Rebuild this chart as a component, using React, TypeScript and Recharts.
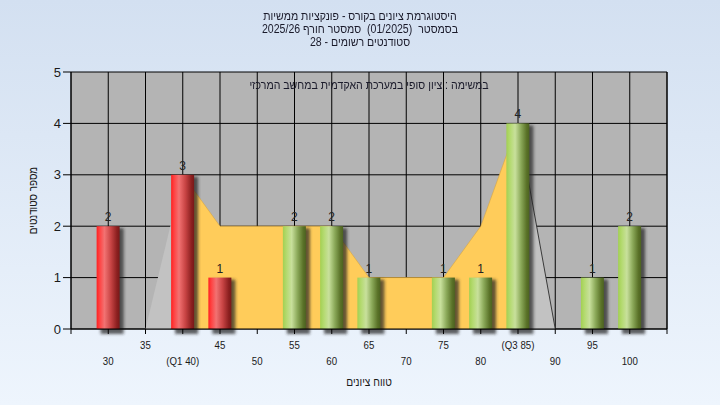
import { ComposedChart, Bar, Area, XAxis, YAxis, CartesianGrid, LabelList, Label } from 'recharts'

const scores = [30, 35, 40, 45, 50, 55, 60, 65, 70, 75, 80, 85, 90, 95, 100]
const studentCounts = [2, 0, 3, 1, 0, 2, 2, 1, 0, 1, 1, 4, 0, 1, 2]
const tickLabels = ['30', '35', '(Q1 40)', '45', '50', '55', '60', '65', '70', '75', '80', '(Q3 85)', '90', '95', '100']
// frequency polygon between Q1 and Q3, plus the two tails outside it
const midPolygon = [null, null, 3, 2, 2, 2, 2, 1, 1, 1, 2, 4, null, null, null]
const lowTail = [null, 0, 3, null, null, null, null, null, null, null, null, null, null, null, null]
const highTail = [null, null, null, null, null, null, null, null, null, null, null, 4, 0, null, null]
const axisTicks = [25, 30, 35, 40, 45, 50, 55, 60, 65, 70, 75, 80, 85, 90, 95, 100, 105]
const yTicks = [0, 1, 2, 3, 4, 5]
const passMark = 55

const titleLines = [
  'היסטוגרמת ציונים בקורס - פונקציות ממשיות',
  'בסמסטר  (01/2025)  סמסטר חורף 2025/26',
  'סטודנטים רשומים - 28',
]
const note = 'במשימה : ציון סופי במערכת האקדמית במחשב המרכזי'
const xTitle = 'טווח ציונים'
const yTitle = 'מספר סטודנטים'

const data = scores.map((s, i) => ({
  score: s,
  count: studentCounts[i],
  mid: midPolygon[i],
  low: lowTail[i],
  high: highTail[i],
}))

const FONT = '"Liberation Sans", "DejaVu Sans", Arial, sans-serif'
const NARROW = 0.88

function CylinderBar(props: any) {
  const { x, y, width, height, payload } = props
  if (!height || height <= 0) return null
  const grad = payload.score < passMark ? 'url(#redCyl)' : 'url(#greenCyl)'
  return (
    <g>
      <rect x={x + 4} y={y + 2} width={width} height={height + 3} fill="#222" opacity={0.7} filter="url(#barShadow)" />
      <rect x={x} y={y} width={width} height={height} fill={grad} />
    </g>
  )
}

function XTick(props: any) {
  const { x, y, payload } = props
  const i = scores.indexOf(payload.value)
  if (i < 0) return null
  const lower = i % 2 === 0
  return (
    <text
      transform={`translate(${x},${y + (lower ? 29 : 13)}) scale(${NARROW},1)`}
      textAnchor="middle"
      fontSize={11}
      fill="#1a1a1a"
      fontFamily={FONT}
    >
      {tickLabels[i]}
    </text>
  )
}

function XTitle(props: any) {
  const { viewBox } = props
  const cx = viewBox.x + viewBox.width / 2
  return (
    <text transform={`translate(${cx},386) scale(0.85,1)`} textAnchor="middle" fontSize={12} fill="#1a1a1a" fontFamily={FONT}>
      {xTitle}
    </text>
  )
}

function YTitle(props: any) {
  const { viewBox } = props
  const cy = viewBox.y + viewBox.height / 2
  return (
    <text transform={`translate(37,${cy}) rotate(-90) scale(0.82,1)`} textAnchor="middle" fontSize={12} fill="#1a1a1a" fontFamily={FONT}>
      {yTitle}
    </text>
  )
}

const lineStyle = (top: number) => ({
  position: 'absolute' as const,
  top,
  left: 0,
  width: 720,
  textAlign: 'center' as const,
  fontSize: 12,
  lineHeight: '13px',
  color: '#1a1a2a',
  whiteSpace: 'pre' as const,
  transform: `scaleX(${NARROW})`,
})

export default function App() {
  return (
    <div
      style={{
        position: 'absolute',
        left: 0,
        top: 0,
        width: 720,
        height: 405,
        background: 'linear-gradient(to bottom, #d3e0f1, #eef5fd)',
        fontFamily: FONT,
      }}
    >
      {titleLines.map((t, i) => (
        <div key={t} dir="rtl" style={lineStyle(10 + i * 13)}>
          {t}
        </div>
      ))}
      <ComposedChart
        width={720}
        height={405}
        data={data}
        margin={{ top: 72, right: 0, bottom: 0, left: 0 }}
        style={{ position: 'absolute', left: 0, top: 0 }}
      >
        <defs>
          <linearGradient id="redCyl" x1="0" y1="0" x2="1" y2="0">
            <stop offset="0%" stopColor="#ff2020" />
            <stop offset="12%" stopColor="#ff4040" />
            <stop offset="34%" stopColor="#f27272" />
            <stop offset="62%" stopColor="#c84444" />
            <stop offset="88%" stopColor="#8c2020" />
            <stop offset="100%" stopColor="#781818" />
          </linearGradient>
          <linearGradient id="greenCyl" x1="0" y1="0" x2="1" y2="0">
            <stop offset="0%" stopColor="#a2d052" />
            <stop offset="16%" stopColor="#b4da70" />
            <stop offset="38%" stopColor="#c8e09c" />
            <stop offset="64%" stopColor="#8aa858" />
            <stop offset="88%" stopColor="#5a7228" />
            <stop offset="100%" stopColor="#4c6220" />
          </linearGradient>
          <filter id="barShadow" x="-50%" y="-20%" width="200%" height="140%">
            <feGaussianBlur stdDeviation="1.5" />
          </filter>
        </defs>
        <CartesianGrid
          stroke="#000"
          strokeWidth={1}
          fill="#b4b4b4"
          fillOpacity={1}
          yAxisId="left"
          verticalValues={axisTicks}
          horizontalValues={yTicks}
        />
        <XAxis
          dataKey="score"
          type="number"
          domain={[25, 105]}
          ticks={axisTicks}
          interval={0}
          height={76}
          tickSize={5}
          axisLine={{ stroke: '#000' }}
          tickLine={{ stroke: '#000' }}
          tick={<XTick />}
        >
          <Label content={<XTitle />} />
        </XAxis>
        <YAxis
          yAxisId="left"
          domain={[0, 5]}
          ticks={yTicks}
          width={71}
          tickSize={8}
          axisLine={{ stroke: '#000' }}
          tickLine={{ stroke: '#000' }}
          tick={{ fontSize: 13, fill: '#1a1a1a', fontFamily: FONT }}
        >
          <Label content={<YTitle />} />
        </YAxis>
        <YAxis
          yAxisId="right"
          orientation="right"
          domain={[0, 5]}
          ticks={yTicks}
          width={53}
          tickSize={8}
          axisLine={{ stroke: '#000' }}
          tickLine={{ stroke: '#000' }}
          tick={{ fontSize: 13, fill: '#1a1a1a', fontFamily: FONT }}
        />
        <Area yAxisId="left" dataKey="low" type="linear" fill="#c2c2c2" fillOpacity={1} stroke="none" isAnimationActive={false} />
        <Area yAxisId="left" dataKey="high" type="linear" fill="#c2c2c2" fillOpacity={1} stroke="#3a3a3a" strokeWidth={1} isAnimationActive={false} />
        <Area yAxisId="left" dataKey="mid" type="linear" fill="#ffcc5a" fillOpacity={1} stroke="#d9a640" strokeWidth={0.6} isAnimationActive={false} />
        <Bar yAxisId="left" dataKey="count" barSize={23} shape={<CylinderBar />} isAnimationActive={false}>
          <LabelList
            dataKey="count"
            position="top"
            offset={5}
            fontSize={12}
            fill="#222"
            fontFamily={FONT}
            formatter={(v: any) => (v ? v : '')}
          />
        </Bar>
      </ComposedChart>
      <div
        dir="rtl"
        style={{
          position: 'absolute',
          top: 78,
          left: 71,
          width: 596,
          textAlign: 'center',
          fontSize: 12,
          color: '#1a1a2a',
          transform: `scaleX(${NARROW})`,
        }}
      >
        {note}
      </div>
    </div>
  )
}
